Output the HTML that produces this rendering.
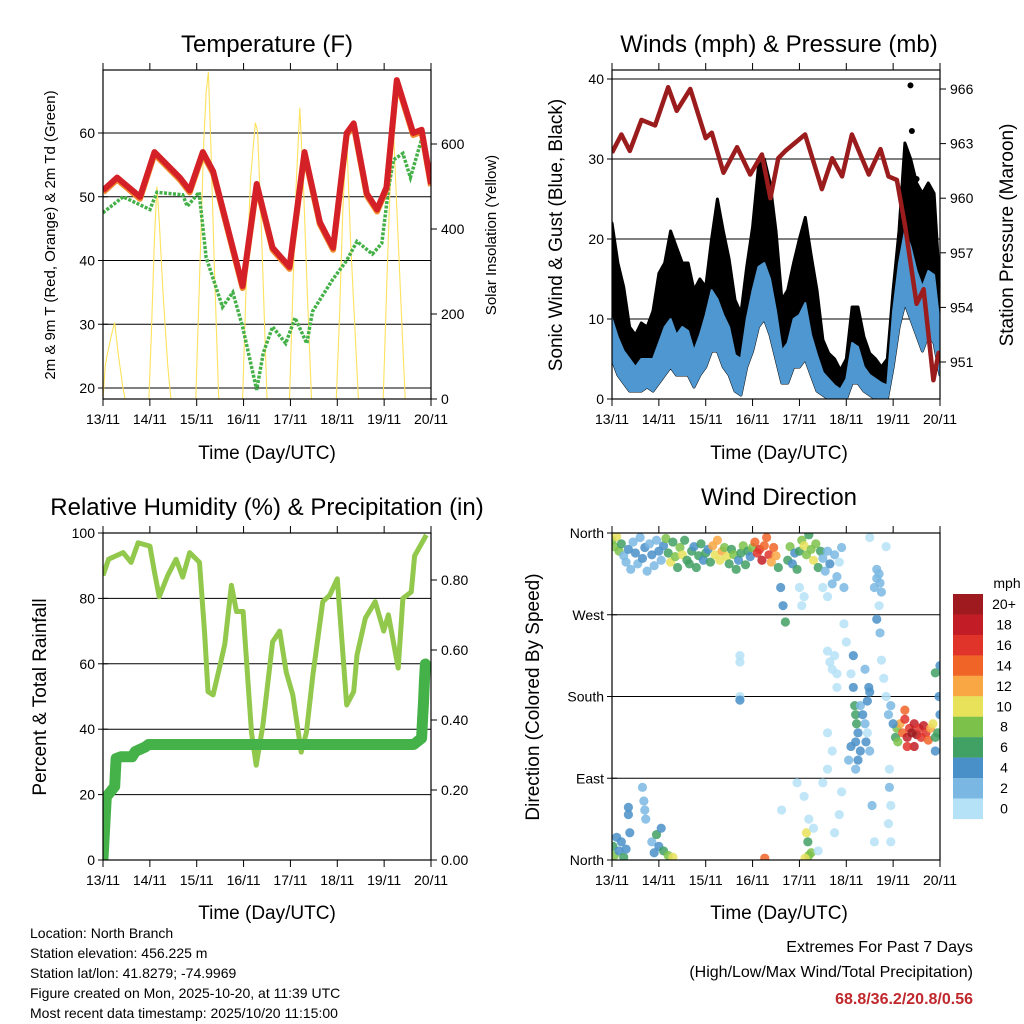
<!DOCTYPE html>
<html><head><meta charset="utf-8">
<style>
html,body{margin:0;padding:0;background:#fff;}
svg{display:block;font-family:"Liberation Sans",sans-serif;}
</style></head>
<body>
<svg id="chart" width="1024" height="1024" viewBox="0 0 1024 1024" xmlns="http://www.w3.org/2000/svg">
<defs>
<clipPath id="c1"><rect x="103" y="70" width="328" height="329"/></clipPath>
<clipPath id="c2"><rect x="612" y="70" width="328" height="329"/></clipPath>
<clipPath id="c3"><rect x="103" y="533" width="328" height="327"/></clipPath>
<clipPath id="c4"><rect x="612" y="533" width="328" height="327"/></clipPath>
</defs>
<g id="p1"></g>
<g id="p2"></g>
<g id="p3"></g>
<g id="p4"></g>
<g font-size="24" text-anchor="middle">
<text x="267" y="52">Temperature (F)</text>
<text x="779" y="52">Winds (mph) &amp; Pressure (mb)</text>
<text x="267" y="515">Relative Humidity (%) &amp; Precipitation (in)</text>
<text x="779" y="505">Wind Direction</text>
</g>
<g font-size="19" text-anchor="middle">
<text x="267" y="459">Time (Day/UTC)</text>
<text x="779" y="459">Time (Day/UTC)</text>
<text x="267" y="919">Time (Day/UTC)</text>
<text x="779" y="919">Time (Day/UTC)</text>
<text transform="translate(55,235) rotate(-90)" font-size="15">2m &amp; 9m T (Red, Orange) &amp; 2m Td (Green)</text>
<text transform="translate(496,235) rotate(-90)" font-size="15">Solar Insolation (Yellow)</text>
<text transform="translate(562,235) rotate(-90)">Sonic Wind &amp; Gust (Blue, Black)</text>
<text transform="translate(1013,235) rotate(-90)">Station Pressure (Maroon)</text>
<text transform="translate(46,697) rotate(-90)">Percent &amp; Total Rainfall</text>
<text transform="translate(539,697) rotate(-90)">Direction (Colored By Speed)</text>
</g>
<g font-size="14">
<text x="30" y="938">Location: North Branch</text>
<text x="30" y="958">Station elevation: 456.225 m</text>
<text x="30" y="978">Station lat/lon: 41.8279; -74.9969</text>
<text x="30" y="998">Figure created on Mon, 2025-10-20, at 11:39 UTC</text>
<text x="30" y="1018">Most recent data timestamp: 2025/10/20 11:15:00</text>
</g>
<g font-size="16" text-anchor="end">
<text x="973" y="952">Extremes For Past 7 Days</text>
<text x="973" y="977">(High/Low/Max Wind/Total Precipitation)</text>
<text x="973" y="1004" font-weight="bold" fill="#c0282d">68.8/36.2/20.8/0.56</text>
</g>
<g id="legend"></g>
</svg>
<script>
// ---- data ----
const dayLabels = ["13/11","14/11","15/11","16/11","17/11","18/11","19/11","20/11"];
const tempT = [0,0.3,0.79,1.1,1.64,1.85,2.13,2.35,2.98,3.28,3.62,3.98,4.3,4.63,4.91,5.2,5.35,5.63,5.85,6.05,6.27,6.62,6.8,7.0];
const tempV = [51,53,50,57,53,51,57,54,36,52,42,39,57,46,42,60,61.5,50.5,48,51.5,68.3,60,60.5,52];
const dewT = [0,0.43,1.0,1.15,1.7,1.8,2.05,2.2,2.55,2.77,2.98,3.28,3.42,3.62,3.9,4.1,4.35,4.47,4.9,5.2,5.42,5.75,5.95,6.1,6.2,6.4,6.56,6.8,7.0];
const dewV = [47.5,50,48,50.7,50.3,48.5,50.7,40.5,32.7,35,29.6,19.7,25.5,29.6,27,31,27,32,37,40,43,41,42.7,51.6,55.8,56.8,53,59,52];
const solarT = [0,0.05,0.12,0.2,0.25,0.32,0.42,0.47, 0.98,1.03,1.1,1.15,1.2,1.28,1.38,1.45, 1.98,2.05,2.15,2.2,2.25,2.3,2.38,2.47, 2.98,3.05,3.15,3.25,3.3,3.38,3.47,3.5, 3.98,4.05,4.12,4.2,4.28,4.36,4.45, 4.98,5.05,5.12,5.2,5.28,5.36,5.45, 5.98,6.05,6.12,6.2,6.27,6.35,6.45];
const solarV = [0,80,120,160,180,110,30,0, 0,150,380,500,420,250,80,0, 0,250,600,720,770,600,300,0, 0,250,520,650,630,400,100,0, 0,250,500,685,500,250,0, 0,200,450,616,380,200,0, 0,250,480,633,450,250,0];
const windT = [0,0.125,0.25,0.375,0.5,0.625,0.75,0.875,1,1.125,1.25,1.375,1.5,1.625,1.75,1.875,2,2.125,2.25,2.375,2.5,2.625,2.75,2.875,3,3.125,3.25,3.375,3.5,3.625,3.75,3.875,4,4.125,4.25,4.375,4.5,4.625,4.75,4.875,5,5.125,5.25,5.375,5.5,5.625,5.75,5.875,6,6.125,6.25,6.375,6.5,6.625,6.75,6.875,7];
const gustHi = [22,17,14,9,8,9.5,9,11,15.7,17,21,19,17,17,13.6,15,14,20,25,21,17.5,12.4,10.7,16.5,21.5,29,30,27,21,12.4,13.6,17,20,22.7,18,13.6,7.4,5.7,5,3.6,5,11.5,11.5,7.8,5.7,5,4,5,13.6,21,32,30,27,25.7,27,25.7,13.6];
const windHi = [10,7.7,6,5,4,5,5,5,7,9,10,8,9,8.5,6,8,10.5,13.6,12.5,10.5,9,5.5,5,10,13.6,16.5,17,15,11,6,7,10,10.5,12,8,5.5,3.3,2.5,1.7,1.2,2.5,7,6.5,4,3,2.5,2,1.7,11,17,21,19,16,14,16,15.5,9];
const windLo = [5,3,2,1,1,1,1.5,1,2,3,4,3,3,3,1.5,3,4,6,6,4,3,1,0.5,4,6,9,10,8,5,2,2,4,4,5,3,1,0.5,0,0,0,0,2,2,1,0.5,0,0,0,4,9,12,10,8,6,8,7,3];
const gustOutT = [3.1,3.35,6.37,6.4,6.25,6.5];
const gustOutV = [21.5,20.5,39.2,33.5,21,27.5];
const presT = [0,0.2,0.38,0.63,0.92,1.2,1.38,1.67,2.0,2.13,2.38,2.67,2.95,3.2,3.38,3.55,3.7,4.12,4.48,4.7,4.91,5.12,5.48,5.73,5.9,6.08,6.26,6.5,6.65,6.86,6.97,7.0];
const presV = [962.5,963.5,962.6,964.3,964,966.1,964.8,966,963.3,963.6,961.4,962.8,961.3,962.4,960,962.2,962.6,963.5,960.5,962.2,961.2,963.5,961.3,962.7,961.2,961,958.4,954.2,955,950,951.5,951];
const rhT = [0,0.12,0.43,0.6,0.75,1.0,1.1,1.2,1.38,1.56,1.7,1.85,2.06,2.17,2.24,2.35,2.5,2.6,2.74,2.85,2.99,3.17,3.27,3.41,3.62,3.77,3.91,4.05,4.23,4.34,4.48,4.69,4.84,5.0,5.2,5.35,5.42,5.6,5.81,5.99,6.09,6.3,6.4,6.58,6.65,6.9];
const rhV = [87,92,94,91,97,96,88,80.5,87,92,86.5,94,91,69,51.5,50.5,59.6,66,84,76,76,39,29,41,66.7,70,57.5,50.5,33,39,56.6,79,81,86,47.4,51.5,62.7,74,79,70,75,58.7,80,82,93,99.4];
const rainT = [0,0.07,0.25,0.28,0.38,0.62,0.69,0.9,0.97,6.63,6.8,6.82,6.84,6.86,6.88];
const rainV = [0.005,0.18,0.21,0.29,0.295,0.295,0.31,0.323,0.33,0.33,0.348,0.405,0.45,0.51,0.56];
const dirBandT = [];
for (let i = 0; i < 100; i++) dirBandT.push(i * 0.05);
const dirBandDeg = [352,345,356,340,348,335,328,342,320,350,338,326,355,332,344,318,348,336,324,352,340,330,346,354,338,328,350,334,322,344,336,352,330,326,340,345,322,335,348,330,338,342,328,346,336,352,330,340,344,334,326,342,336,320,330,338,346,325,340,334,344,350,338,342,330,346,355,336,328,344,335,322,300,280,262,330,345,326,338,320,340,352,346,336,358,342,330,348,322,340,332,318,340,326,304,336,312,328,344,300];
const dirBandSpd = [9,8,10,8,6,3,2,4,3,2,4,3,2,4,5,3,2,4,3,2,4,3,5,8,7,10,6,9,7,8,10,6,6,6,7,5,6,6,7,5,6,4,6,12,10,13,11,12,9,10,7,6,8,6,4,7,8,6,7,5,8,14,16,17,18,15,14,16,13,15,12,6,5,4,7,6,8,5,4,6,7,9,10,8,7,9,10,8,6,7,3,2,3,4,2,3,2,1,3,2];
const dirExtraT = [0.02,0.05,0.1,0.15,0.2,0.25,0.3,0.35,0.35,0.38,0.65,0.68,0.7,0.72,0.85,0.9,0.95,1.0,1.05,1.1,1.2,1.3,2.73,2.73,2.73,2.73,3.26,3.62,4.15,4.18,4.2,4.25,4.12,4.0,4.05,4.1,3.95,4.1,4.2,4.3,4.4,4.5,4.6,4.6,4.65,4.7,4.75,4.8,4.6,4.7,4.75,4.85,4.9,4.8,4.5,4.6,4.95,5.0,5.1,5.15,5.4,5.55,5.6,5.45,5.5,5.6,5.65,5.65,5.7,5.72,5.75,5.7,5.72,5.75,5.8,5.85,5.9,5.92,5.92,5.95,5.9,5.95,5.85,5.5,5.65,5.15,5.18,5.2,5.22,5.25,5.2,5.3,5.25,5.3,5.35,5.4,5.42,5.45,5.1,5.05,5.2,5.48,5.5,6.05,6.08,6.1,6.15,6.2,6.25,6.3,6.35,6.4,6.45,6.5,6.55,6.6,6.65,6.7,6.75,6.8,6.85,6.9,6.95,7.0,6.98,6.9,7.0,6.9,6.0,5.95,6.25,6.45,6.3];
const dirExtraDeg = [15,5,25,10,20,3,12,58,50,30,80,65,55,45,20,8,28,15,35,10,5,3,225,218,180,176,2,55,30,20,5,8,2,300,280,290,85,70,45,35,10,300,290,230,218,210,225,205,100,120,30,50,75,190,85,140,260,240,205,225,210,60,20,140,120,300,310,320,315,305,295,280,250,220,200,180,160,100,80,60,40,20,345,355,265,190,170,160,150,140,130,120,110,170,160,150,130,175,125,110,100,190,185,135,145,130,150,140,155,135,145,140,150,138,145,135,148,140,132,145,150,135,140,160,180,120,214,206,150,170,165,125,125];
const dirExtraSpd = [6,8,4,4,5,6,4,4,4,4,2,2,2,2,2,4,6,4,4,6,8,10,0,0,0,4,14,0,10,6,8,8,10,0,0,0,0,0,0,0,0,1,0,0,0,0,0,0,0,0,0,0,0,0,0,0,0,0,0,4,2,2,0,0,2,2,2,2,2,2,2,0,2,0,0,0,2,0,2,0,0,0,0,0,4,4,6,6,6,4,4,4,4,2,4,2,4,4,4,2,2,4,4,6,8,8,12,14,16,18,16,20,18,20,16,16,18,16,14,12,10,6,6,4,4,4,4,6,4,2,14,18,16];
const legendLabels = ["20+","18","16","14","12","10","8","6","4","2","0"];
const legendColors = ["#9e1a1e","#c21d26","#e0342b","#f06428","#f9a744","#e8e15a","#7cc24a","#41a063","#4a90c8","#7ab8e3","#b5e2f7"];

// ---- helpers ----
const NS = "http://www.w3.org/2000/svg";
function mk(tag, attrs, parent) {
  const e = document.createElementNS(NS, tag);
  for (const k in attrs) e.setAttribute(k, attrs[k]);
  parent.appendChild(e);
  return e;
}
function linear(d0, d1, r0, r1) { return v => r0 + (v - d0) / (d1 - d0) * (r1 - r0); }
function pathFrom(ts, vs, sx, sy) {
  return ts.map((t, i) => (i ? "L" : "M") + sx(t).toFixed(1) + "," + sy(vs[i]).toFixed(1)).join("");
}
function bandFrom(ts, lo, hi, sx, sy) {
  let d = ts.map((t, i) => (i ? "L" : "M") + sx(t).toFixed(1) + "," + sy(hi[i]).toFixed(1)).join("");
  for (let i = ts.length - 1; i >= 0; i--) d += "L" + sx(ts[i]).toFixed(1) + "," + sy(lo[i]).toFixed(1);
  return d + "Z";
}
function frame(g, x0, y0, x1, y1, sx) {
  const fr = mk("rect", {x: x0, y: y0, width: x1 - x0, height: y1 - y0, fill: "none", stroke: "#000", "stroke-width": 1.2}, g);
  
  
  for (let d = 0; d <= 7; d++) {
    const x = sx(d);
    mk("line", {x1: x, x2: x, y1: y0 - 7, y2: y0, stroke: "#000", "stroke-width": 1}, g);
    mk("line", {x1: x, x2: x, y1: y1, y2: y1 + 7, stroke: "#000", "stroke-width": 1}, g);
    const tl = mk("text", {x: x, y: y1 + 25, "font-size": 14, "text-anchor": "middle"}, g);
    tl.textContent = dayLabels[d];
    
    
  }
}
function leftAxis(g, x0, x1, vals, labels, sy, grid) {
  vals.forEach((v, i) => {
    const y = sy(v);
    if (grid) mk("line", {x1: x0, x2: x1, y1: y, y2: y, stroke: "#000", "stroke-width": 1}, g);
    mk("line", {x1: x0 - 5, x2: x0 + 5, y1: y, y2: y, stroke: "#000", "stroke-width": 1}, g);
    const t = mk("text", {x: x0 - 8, y: y + 5, "font-size": 14, "text-anchor": "end"}, g);
    t.textContent = labels[i];
    
    
  });
}
function rightAxis(g, x1, vals, labels, sy) {
  vals.forEach((v, i) => {
    const y = sy(v);
    mk("line", {x1: x1, x2: x1 + 6, y1: y, y2: y, stroke: "#000", "stroke-width": 1}, g);
    const t = mk("text", {x: x1 + 10, y: y + 5, "font-size": 14}, g);
    t.textContent = labels[i];
    
    
  });
}
function spdColor(s) { return legendColors[10 - Math.min(10, Math.floor(s / 2))]; }

// ---- panel 1 ----
(function () {
  const g = document.getElementById("p1");
  const sx = linear(0, 7, 103, 431), sy = linear(20, 60, 388, 133), sy2 = linear(0, 600, 399, 144);
  leftAxis(g, 103, 431, [20,30,40,50,60], ["20","30","40","50","60"], sy, true);
  rightAxis(g, 431, [0,200,400,600], ["0","200","400","600"], sy2);
  const c = mk("g", {"clip-path": "url(#c1)"}, g);
  const s = mk("path", {d: pathFrom(solarT, solarV, sx, sy2), fill: "none", stroke: "#fde25c", "stroke-width": 1.1}, c);
   
  const dw = mk("path", {d: pathFrom(dewT, dewV, sx, sy), fill: "none", stroke: "#44b048", "stroke-width": 3.5, "stroke-dasharray": "3 1.5"}, c);
   
  const o = mk("path", {d: pathFrom(tempT, tempV, sx, sy), fill: "none", stroke: "#f28a2e", "stroke-width": 6, transform: "translate(0,2)", "stroke-linejoin": "round"}, c);
   
  const r = mk("path", {d: pathFrom(tempT, tempV, sx, sy), fill: "none", stroke: "#d42027", "stroke-width": 6, "stroke-linejoin": "round"}, c);
   
  frame(g, 103, 70, 431, 399, sx);
})();

// ---- panel 2 ----
(function () {
  const g = document.getElementById("p2");
  const sx = linear(0, 7, 612, 940), sy = linear(0, 40, 399, 79), sy2 = linear(951, 966, 362, 89);
  leftAxis(g, 612, 940, [0,10,20,30,40], ["0","10","20","30","40"], sy, true);
  rightAxis(g, 940, [951,954,957,960,963,966], ["951","954","957","960","963","966"], sy2);
  const c = mk("g", {"clip-path": "url(#c2)"}, g);
  const gb = mk("path", {d: bandFrom(windT, windLo, gustHi, sx, sy), fill: "#000", stroke: "#000", "stroke-width": 3, "stroke-linejoin": "round"}, c);
   
  gustOutT.forEach((t, i) => {
    const d = mk("circle", {cx: sx(t), cy: sy(gustOutV[i]), r: 3, fill: "#000"}, c);
     
  });
  const wb = mk("path", {d: bandFrom(windT, windLo, windHi, sx, sy), fill: "#4f97d0", stroke: "#4f97d0", "stroke-width": 2, "stroke-linejoin": "round"}, c);
   
  const p = mk("path", {d: pathFrom(presT, presV, sx, sy2), fill: "none", stroke: "#9b1c1c", "stroke-width": 4.5, "stroke-linejoin": "round"}, c);
   
  frame(g, 612, 70, 940, 399, sx);
})();

// ---- panel 3 ----
(function () {
  const g = document.getElementById("p3");
  const sx = linear(0, 7, 103, 431), sy = linear(0, 100, 860, 533), sy2 = linear(0, 1, 860, 510);
  leftAxis(g, 103, 431, [0,20,40,60,80,100], ["0","20","40","60","80","100"], sy, true);
  rightAxis(g, 431, [0,0.2,0.4,0.6,0.8], ["0.00","0.20","0.40","0.60","0.80"], sy2);
  const c = mk("g", {"clip-path": "url(#c3)"}, g);
  const rh = mk("path", {d: pathFrom(rhT, rhV, sx, sy), fill: "none", stroke: "#92c84c", "stroke-width": 5, "stroke-linejoin": "round"}, c);
   
  const pr = mk("path", {d: pathFrom(rainT, rainV, sx, sy2), fill: "none", stroke: "#45b249", "stroke-width": 11, "stroke-linejoin": "round", "stroke-linecap": "round"}, c);
   
  frame(g, 103, 533, 431, 860, sx);
})();

// ---- panel 4 ----
(function () {
  const g = document.getElementById("p4");
  const sx = linear(0, 7, 612, 940), sy = linear(0, 360, 860, 533);
  leftAxis(g, 612, 940, [0,90,180,270,360], ["North","East","South","West","North"], sy, true);
  const c = mk("g", {"clip-path": "url(#c4)"}, g);
  function dot(t, d, s) {
    const e = mk("circle", {cx: sx(t), cy: sy(d), r: 4.6, fill: spdColor(s), "fill-opacity": 0.85}, c);
    
    
  }
  dirBandT.forEach((t, i) => dot(t, dirBandDeg[i], dirBandSpd[i]));
  dirExtraT.forEach((t, i) => dot(t, dirExtraDeg[i], dirExtraSpd[i]));
  frame(g, 612, 533, 940, 860, sx);
})();

// ---- legend ----
(function () {
  const g = document.getElementById("legend");
  const u = mk("text", {x: 1007, y: 588, "font-size": 14, "text-anchor": "middle"}, g);
  u.textContent = "mph";
   
  legendLabels.forEach((lab, i) => {
    const y = 594 + i * 20.45;
    const r = mk("rect", {x: 953, y: y, width: 30, height: 20.6, fill: legendColors[i]}, g);
     
    const t = mk("text", {x: 1004, y: y + 15, "font-size": 14, "text-anchor": "middle"}, g);
    t.textContent = lab;
     
  });
})();
</script>
</body></html>
